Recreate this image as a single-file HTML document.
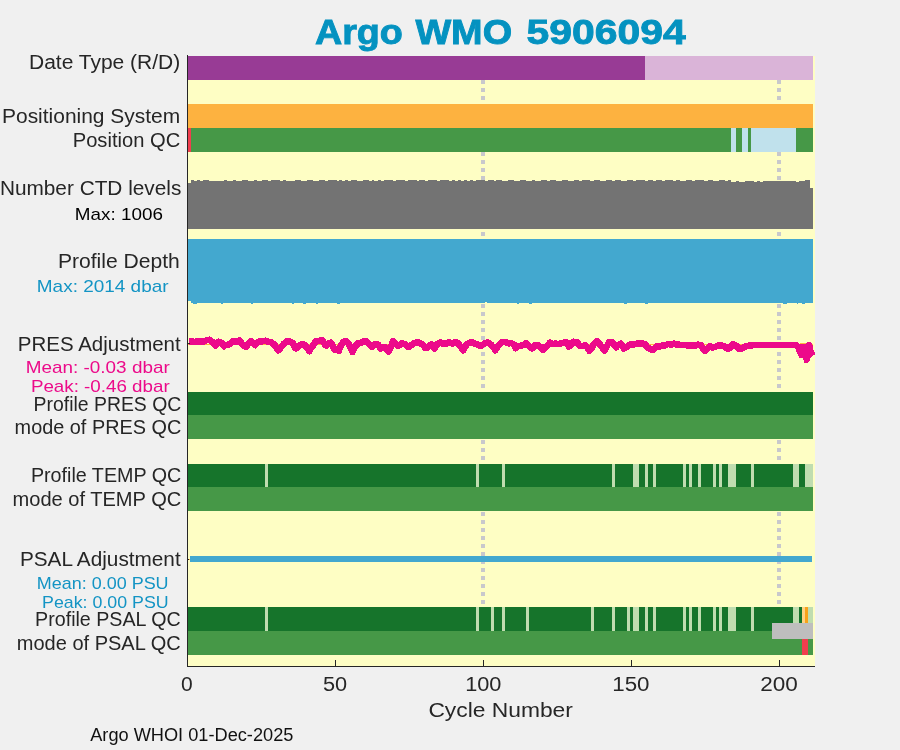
<!DOCTYPE html>
<html><head><meta charset="utf-8"><style>
html,body{margin:0;padding:0;background:#f0f0f0;width:900px;height:750px;overflow:hidden}
svg{display:block;will-change:transform}
text{font-family:"Liberation Sans",sans-serif}
</style></head><body>
<svg width="900" height="750" viewBox="0 0 900 750">
<rect x="0" y="0" width="900" height="750" fill="#f0f0f0"/>
<g shape-rendering="crispEdges">
<rect x="187.00" y="56.00" width="628.00" height="610.50" fill="#fefec4"/>
<rect x="481.00" y="56.00" width="4.00" height="4.00" fill="#c8c8cc"/>
<rect x="481.00" y="64.00" width="4.00" height="4.00" fill="#c8c8cc"/>
<rect x="481.00" y="72.00" width="4.00" height="4.00" fill="#c8c8cc"/>
<rect x="481.00" y="80.00" width="4.00" height="4.00" fill="#c8c8cc"/>
<rect x="481.00" y="88.00" width="4.00" height="4.00" fill="#c8c8cc"/>
<rect x="481.00" y="96.00" width="4.00" height="4.00" fill="#c8c8cc"/>
<rect x="481.00" y="104.00" width="4.00" height="4.00" fill="#c8c8cc"/>
<rect x="481.00" y="112.00" width="4.00" height="4.00" fill="#c8c8cc"/>
<rect x="481.00" y="120.00" width="4.00" height="4.00" fill="#c8c8cc"/>
<rect x="481.00" y="128.00" width="4.00" height="4.00" fill="#c8c8cc"/>
<rect x="481.00" y="136.00" width="4.00" height="4.00" fill="#c8c8cc"/>
<rect x="481.00" y="144.00" width="4.00" height="4.00" fill="#c8c8cc"/>
<rect x="481.00" y="152.00" width="4.00" height="4.00" fill="#c8c8cc"/>
<rect x="481.00" y="160.00" width="4.00" height="4.00" fill="#c8c8cc"/>
<rect x="481.00" y="168.00" width="4.00" height="4.00" fill="#c8c8cc"/>
<rect x="481.00" y="176.00" width="4.00" height="4.00" fill="#c8c8cc"/>
<rect x="481.00" y="184.00" width="4.00" height="4.00" fill="#c8c8cc"/>
<rect x="481.00" y="192.00" width="4.00" height="4.00" fill="#c8c8cc"/>
<rect x="481.00" y="200.00" width="4.00" height="4.00" fill="#c8c8cc"/>
<rect x="481.00" y="208.00" width="4.00" height="4.00" fill="#c8c8cc"/>
<rect x="481.00" y="216.00" width="4.00" height="4.00" fill="#c8c8cc"/>
<rect x="481.00" y="224.00" width="4.00" height="4.00" fill="#c8c8cc"/>
<rect x="481.00" y="232.00" width="4.00" height="4.00" fill="#c8c8cc"/>
<rect x="481.00" y="240.00" width="4.00" height="4.00" fill="#c8c8cc"/>
<rect x="481.00" y="248.00" width="4.00" height="4.00" fill="#c8c8cc"/>
<rect x="481.00" y="256.00" width="4.00" height="4.00" fill="#c8c8cc"/>
<rect x="481.00" y="264.00" width="4.00" height="4.00" fill="#c8c8cc"/>
<rect x="481.00" y="272.00" width="4.00" height="4.00" fill="#c8c8cc"/>
<rect x="481.00" y="280.00" width="4.00" height="4.00" fill="#c8c8cc"/>
<rect x="481.00" y="288.00" width="4.00" height="4.00" fill="#c8c8cc"/>
<rect x="481.00" y="296.00" width="4.00" height="4.00" fill="#c8c8cc"/>
<rect x="481.00" y="304.00" width="4.00" height="4.00" fill="#c8c8cc"/>
<rect x="481.00" y="312.00" width="4.00" height="4.00" fill="#c8c8cc"/>
<rect x="481.00" y="320.00" width="4.00" height="4.00" fill="#c8c8cc"/>
<rect x="481.00" y="328.00" width="4.00" height="4.00" fill="#c8c8cc"/>
<rect x="481.00" y="336.00" width="4.00" height="4.00" fill="#c8c8cc"/>
<rect x="481.00" y="344.00" width="4.00" height="4.00" fill="#c8c8cc"/>
<rect x="481.00" y="352.00" width="4.00" height="4.00" fill="#c8c8cc"/>
<rect x="481.00" y="360.00" width="4.00" height="4.00" fill="#c8c8cc"/>
<rect x="481.00" y="368.00" width="4.00" height="4.00" fill="#c8c8cc"/>
<rect x="481.00" y="376.00" width="4.00" height="4.00" fill="#c8c8cc"/>
<rect x="481.00" y="384.00" width="4.00" height="4.00" fill="#c8c8cc"/>
<rect x="481.00" y="392.00" width="4.00" height="4.00" fill="#c8c8cc"/>
<rect x="481.00" y="400.00" width="4.00" height="4.00" fill="#c8c8cc"/>
<rect x="481.00" y="408.00" width="4.00" height="4.00" fill="#c8c8cc"/>
<rect x="481.00" y="416.00" width="4.00" height="4.00" fill="#c8c8cc"/>
<rect x="481.00" y="424.00" width="4.00" height="4.00" fill="#c8c8cc"/>
<rect x="481.00" y="432.00" width="4.00" height="4.00" fill="#c8c8cc"/>
<rect x="481.00" y="440.00" width="4.00" height="4.00" fill="#c8c8cc"/>
<rect x="481.00" y="448.00" width="4.00" height="4.00" fill="#c8c8cc"/>
<rect x="481.00" y="456.00" width="4.00" height="4.00" fill="#c8c8cc"/>
<rect x="481.00" y="464.00" width="4.00" height="4.00" fill="#c8c8cc"/>
<rect x="481.00" y="472.00" width="4.00" height="4.00" fill="#c8c8cc"/>
<rect x="481.00" y="480.00" width="4.00" height="4.00" fill="#c8c8cc"/>
<rect x="481.00" y="488.00" width="4.00" height="4.00" fill="#c8c8cc"/>
<rect x="481.00" y="496.00" width="4.00" height="4.00" fill="#c8c8cc"/>
<rect x="481.00" y="504.00" width="4.00" height="4.00" fill="#c8c8cc"/>
<rect x="481.00" y="512.00" width="4.00" height="4.00" fill="#c8c8cc"/>
<rect x="481.00" y="520.00" width="4.00" height="4.00" fill="#c8c8cc"/>
<rect x="481.00" y="528.00" width="4.00" height="4.00" fill="#c8c8cc"/>
<rect x="481.00" y="536.00" width="4.00" height="4.00" fill="#c8c8cc"/>
<rect x="481.00" y="544.00" width="4.00" height="4.00" fill="#c8c8cc"/>
<rect x="481.00" y="552.00" width="4.00" height="4.00" fill="#c8c8cc"/>
<rect x="481.00" y="560.00" width="4.00" height="4.00" fill="#c8c8cc"/>
<rect x="481.00" y="568.00" width="4.00" height="4.00" fill="#c8c8cc"/>
<rect x="481.00" y="576.00" width="4.00" height="4.00" fill="#c8c8cc"/>
<rect x="481.00" y="584.00" width="4.00" height="4.00" fill="#c8c8cc"/>
<rect x="481.00" y="592.00" width="4.00" height="4.00" fill="#c8c8cc"/>
<rect x="481.00" y="600.00" width="4.00" height="4.00" fill="#c8c8cc"/>
<rect x="481.00" y="608.00" width="4.00" height="4.00" fill="#c8c8cc"/>
<rect x="481.00" y="616.00" width="4.00" height="4.00" fill="#c8c8cc"/>
<rect x="481.00" y="624.00" width="4.00" height="4.00" fill="#c8c8cc"/>
<rect x="481.00" y="632.00" width="4.00" height="4.00" fill="#c8c8cc"/>
<rect x="481.00" y="640.00" width="4.00" height="4.00" fill="#c8c8cc"/>
<rect x="481.00" y="648.00" width="4.00" height="4.00" fill="#c8c8cc"/>
<rect x="777.00" y="56.00" width="4.00" height="4.00" fill="#c8c8cc"/>
<rect x="777.00" y="64.00" width="4.00" height="4.00" fill="#c8c8cc"/>
<rect x="777.00" y="72.00" width="4.00" height="4.00" fill="#c8c8cc"/>
<rect x="777.00" y="80.00" width="4.00" height="4.00" fill="#c8c8cc"/>
<rect x="777.00" y="88.00" width="4.00" height="4.00" fill="#c8c8cc"/>
<rect x="777.00" y="96.00" width="4.00" height="4.00" fill="#c8c8cc"/>
<rect x="777.00" y="104.00" width="4.00" height="4.00" fill="#c8c8cc"/>
<rect x="777.00" y="112.00" width="4.00" height="4.00" fill="#c8c8cc"/>
<rect x="777.00" y="120.00" width="4.00" height="4.00" fill="#c8c8cc"/>
<rect x="777.00" y="128.00" width="4.00" height="4.00" fill="#c8c8cc"/>
<rect x="777.00" y="136.00" width="4.00" height="4.00" fill="#c8c8cc"/>
<rect x="777.00" y="144.00" width="4.00" height="4.00" fill="#c8c8cc"/>
<rect x="777.00" y="152.00" width="4.00" height="4.00" fill="#c8c8cc"/>
<rect x="777.00" y="160.00" width="4.00" height="4.00" fill="#c8c8cc"/>
<rect x="777.00" y="168.00" width="4.00" height="4.00" fill="#c8c8cc"/>
<rect x="777.00" y="176.00" width="4.00" height="4.00" fill="#c8c8cc"/>
<rect x="777.00" y="184.00" width="4.00" height="4.00" fill="#c8c8cc"/>
<rect x="777.00" y="192.00" width="4.00" height="4.00" fill="#c8c8cc"/>
<rect x="777.00" y="200.00" width="4.00" height="4.00" fill="#c8c8cc"/>
<rect x="777.00" y="208.00" width="4.00" height="4.00" fill="#c8c8cc"/>
<rect x="777.00" y="216.00" width="4.00" height="4.00" fill="#c8c8cc"/>
<rect x="777.00" y="224.00" width="4.00" height="4.00" fill="#c8c8cc"/>
<rect x="777.00" y="232.00" width="4.00" height="4.00" fill="#c8c8cc"/>
<rect x="777.00" y="240.00" width="4.00" height="4.00" fill="#c8c8cc"/>
<rect x="777.00" y="248.00" width="4.00" height="4.00" fill="#c8c8cc"/>
<rect x="777.00" y="256.00" width="4.00" height="4.00" fill="#c8c8cc"/>
<rect x="777.00" y="264.00" width="4.00" height="4.00" fill="#c8c8cc"/>
<rect x="777.00" y="272.00" width="4.00" height="4.00" fill="#c8c8cc"/>
<rect x="777.00" y="280.00" width="4.00" height="4.00" fill="#c8c8cc"/>
<rect x="777.00" y="288.00" width="4.00" height="4.00" fill="#c8c8cc"/>
<rect x="777.00" y="296.00" width="4.00" height="4.00" fill="#c8c8cc"/>
<rect x="777.00" y="304.00" width="4.00" height="4.00" fill="#c8c8cc"/>
<rect x="777.00" y="312.00" width="4.00" height="4.00" fill="#c8c8cc"/>
<rect x="777.00" y="320.00" width="4.00" height="4.00" fill="#c8c8cc"/>
<rect x="777.00" y="328.00" width="4.00" height="4.00" fill="#c8c8cc"/>
<rect x="777.00" y="336.00" width="4.00" height="4.00" fill="#c8c8cc"/>
<rect x="777.00" y="344.00" width="4.00" height="4.00" fill="#c8c8cc"/>
<rect x="777.00" y="352.00" width="4.00" height="4.00" fill="#c8c8cc"/>
<rect x="777.00" y="360.00" width="4.00" height="4.00" fill="#c8c8cc"/>
<rect x="777.00" y="368.00" width="4.00" height="4.00" fill="#c8c8cc"/>
<rect x="777.00" y="376.00" width="4.00" height="4.00" fill="#c8c8cc"/>
<rect x="777.00" y="384.00" width="4.00" height="4.00" fill="#c8c8cc"/>
<rect x="777.00" y="392.00" width="4.00" height="4.00" fill="#c8c8cc"/>
<rect x="777.00" y="400.00" width="4.00" height="4.00" fill="#c8c8cc"/>
<rect x="777.00" y="408.00" width="4.00" height="4.00" fill="#c8c8cc"/>
<rect x="777.00" y="416.00" width="4.00" height="4.00" fill="#c8c8cc"/>
<rect x="777.00" y="424.00" width="4.00" height="4.00" fill="#c8c8cc"/>
<rect x="777.00" y="432.00" width="4.00" height="4.00" fill="#c8c8cc"/>
<rect x="777.00" y="440.00" width="4.00" height="4.00" fill="#c8c8cc"/>
<rect x="777.00" y="448.00" width="4.00" height="4.00" fill="#c8c8cc"/>
<rect x="777.00" y="456.00" width="4.00" height="4.00" fill="#c8c8cc"/>
<rect x="777.00" y="464.00" width="4.00" height="4.00" fill="#c8c8cc"/>
<rect x="777.00" y="472.00" width="4.00" height="4.00" fill="#c8c8cc"/>
<rect x="777.00" y="480.00" width="4.00" height="4.00" fill="#c8c8cc"/>
<rect x="777.00" y="488.00" width="4.00" height="4.00" fill="#c8c8cc"/>
<rect x="777.00" y="496.00" width="4.00" height="4.00" fill="#c8c8cc"/>
<rect x="777.00" y="504.00" width="4.00" height="4.00" fill="#c8c8cc"/>
<rect x="777.00" y="512.00" width="4.00" height="4.00" fill="#c8c8cc"/>
<rect x="777.00" y="520.00" width="4.00" height="4.00" fill="#c8c8cc"/>
<rect x="777.00" y="528.00" width="4.00" height="4.00" fill="#c8c8cc"/>
<rect x="777.00" y="536.00" width="4.00" height="4.00" fill="#c8c8cc"/>
<rect x="777.00" y="544.00" width="4.00" height="4.00" fill="#c8c8cc"/>
<rect x="777.00" y="552.00" width="4.00" height="4.00" fill="#c8c8cc"/>
<rect x="777.00" y="560.00" width="4.00" height="4.00" fill="#c8c8cc"/>
<rect x="777.00" y="568.00" width="4.00" height="4.00" fill="#c8c8cc"/>
<rect x="777.00" y="576.00" width="4.00" height="4.00" fill="#c8c8cc"/>
<rect x="777.00" y="584.00" width="4.00" height="4.00" fill="#c8c8cc"/>
<rect x="777.00" y="592.00" width="4.00" height="4.00" fill="#c8c8cc"/>
<rect x="777.00" y="600.00" width="4.00" height="4.00" fill="#c8c8cc"/>
<rect x="777.00" y="608.00" width="4.00" height="4.00" fill="#c8c8cc"/>
<rect x="777.00" y="616.00" width="4.00" height="4.00" fill="#c8c8cc"/>
<rect x="777.00" y="624.00" width="4.00" height="4.00" fill="#c8c8cc"/>
<rect x="777.00" y="632.00" width="4.00" height="4.00" fill="#c8c8cc"/>
<rect x="777.00" y="640.00" width="4.00" height="4.00" fill="#c8c8cc"/>
<rect x="777.00" y="648.00" width="4.00" height="4.00" fill="#c8c8cc"/>
<rect x="187.00" y="56.00" width="458.00" height="24.00" fill="#983b95"/>
<rect x="645.00" y="56.00" width="168.00" height="24.00" fill="#dab4d8"/>
<rect x="187.00" y="104.00" width="626.00" height="24.00" fill="#fdb240"/>
<rect x="187.00" y="128.00" width="626.00" height="24.00" fill="#469847"/>
<rect x="188.00" y="128.00" width="3.00" height="24.00" fill="#f03e4e"/>
<rect x="731.00" y="128.00" width="5.00" height="24.00" fill="#c0e1ec"/>
<rect x="742.00" y="128.00" width="6.00" height="24.00" fill="#c0e1ec"/>
<rect x="751.00" y="128.00" width="45.00" height="24.00" fill="#c0e1ec"/>
<path d="M187.0,229.0 L187.0,183.0 L191.0,183.0 L191.0,181.0 L191.0,180.0 L194.0,180.0 L194.0,181.0 L197.0,181.0 L197.0,180.0 L200.0,180.0 L200.0,181.0 L203.0,181.0 L203.0,180.0 L209.0,180.0 L209.0,181.0 L224.0,181.0 L224.0,180.0 L227.0,180.0 L227.0,181.0 L233.0,181.0 L233.0,180.0 L236.0,180.0 L236.0,181.0 L242.0,181.0 L242.0,180.0 L248.0,180.0 L248.0,181.0 L254.0,181.0 L254.0,180.0 L257.0,180.0 L257.0,181.0 L262.0,181.0 L262.0,180.0 L268.0,180.0 L268.0,181.0 L271.0,181.0 L271.0,180.0 L280.0,180.0 L280.0,181.0 L283.0,181.0 L283.0,180.0 L286.0,180.0 L286.0,181.0 L295.0,181.0 L295.0,180.0 L301.0,180.0 L301.0,181.0 L307.0,181.0 L307.0,180.0 L313.0,180.0 L313.0,181.0 L319.0,181.0 L319.0,180.0 L325.0,180.0 L325.0,181.0 L328.0,181.0 L328.0,180.0 L337.0,180.0 L337.0,181.0 L339.0,181.0 L339.0,180.0 L342.0,180.0 L342.0,181.0 L345.0,181.0 L345.0,180.0 L348.0,180.0 L348.0,181.0 L351.0,181.0 L351.0,180.0 L357.0,180.0 L357.0,181.0 L363.0,181.0 L363.0,180.0 L369.0,180.0 L369.0,181.0 L372.0,181.0 L372.0,180.0 L374.0,180.0 L374.0,181.0 L378.0,181.0 L378.0,180.0 L381.0,180.0 L381.0,181.0 L384.0,181.0 L384.0,180.0 L393.0,180.0 L393.0,181.0 L396.0,181.0 L396.0,180.0 L405.0,180.0 L405.0,181.0 L408.0,181.0 L408.0,180.0 L417.0,180.0 L417.0,181.0 L419.0,181.0 L419.0,180.0 L425.0,180.0 L425.0,181.0 L428.0,181.0 L428.0,180.0 L437.0,180.0 L437.0,181.0 L440.0,181.0 L440.0,180.0 L449.0,180.0 L449.0,181.0 L452.0,181.0 L452.0,180.0 L455.0,180.0 L455.0,181.0 L458.0,181.0 L458.0,180.0 L461.0,180.0 L461.0,181.0 L464.0,181.0 L464.0,180.0 L467.0,180.0 L467.0,181.0 L470.0,181.0 L470.0,180.0 L473.0,180.0 L473.0,181.0 L476.0,181.0 L476.0,180.0 L485.0,180.0 L485.0,181.0 L488.0,181.0 L488.0,180.0 L494.0,180.0 L494.0,181.0 L496.0,181.0 L496.0,180.0 L502.0,180.0 L502.0,181.0 L508.0,181.0 L508.0,180.0 L514.0,180.0 L514.0,181.0 L520.0,181.0 L520.0,180.0 L526.0,180.0 L526.0,181.0 L532.0,181.0 L532.0,180.0 L535.0,180.0 L535.0,181.0 L541.0,181.0 L541.0,180.0 L547.0,180.0 L547.0,181.0 L550.0,181.0 L550.0,180.0 L556.0,180.0 L556.0,181.0 L562.0,181.0 L562.0,180.0 L568.0,180.0 L568.0,181.0 L574.0,181.0 L574.0,180.0 L579.0,180.0 L579.0,181.0 L582.0,181.0 L582.0,180.0 L590.0,180.0 L590.0,181.0 L594.0,181.0 L594.0,180.0 L600.0,180.0 L600.0,181.0 L606.0,181.0 L606.0,180.0 L612.0,180.0 L612.0,181.0 L615.0,181.0 L615.0,180.0 L621.0,180.0 L621.0,181.0 L627.0,181.0 L627.0,180.0 L633.0,180.0 L633.0,181.0 L636.0,181.0 L636.0,180.0 L645.0,180.0 L645.0,181.0 L648.0,181.0 L648.0,180.0 L653.0,180.0 L653.0,181.0 L656.0,181.0 L656.0,180.0 L662.0,180.0 L662.0,181.0 L665.0,181.0 L665.0,180.0 L673.0,180.0 L673.0,181.0 L676.0,181.0 L676.0,180.0 L680.0,180.0 L680.0,181.0 L686.0,181.0 L686.0,180.0 L692.0,180.0 L692.0,181.0 L695.0,181.0 L695.0,180.0 L704.0,180.0 L704.0,181.0 L708.0,181.0 L708.0,180.0 L713.0,180.0 L713.0,181.0 L719.0,181.0 L719.0,180.0 L725.0,180.0 L725.0,181.0 L728.0,181.0 L728.0,180.0 L731.0,180.0 L731.0,181.0 L731.0,181.0 L731.0,182.0 L736.0,182.0 L736.0,181.0 L739.0,181.0 L739.0,182.0 L745.0,182.0 L745.0,181.0 L754.0,181.0 L754.0,182.0 L757.0,182.0 L757.0,181.0 L760.0,181.0 L760.0,182.0 L763.0,182.0 L763.0,181.0 L796.0,181.0 L796.0,182.0 L799.0,182.0 L799.0,181.0 L805.0,181.0 L805.0,182.0 L805.0,182.0 L805.0,180.0 L810.0,180.0 L810.0,188.0 L813.0,188.0 L813.0,229.0 Z" fill="#737373"/>
<rect x="187.00" y="239.00" width="626.00" height="64.30" fill="#43a8cf"/>
<rect x="187.00" y="301.00" width="4.00" height="2.30" fill="#fefec4"/>
<rect x="193.00" y="303.00" width="3.60" height="1.30" fill="#43a8cf"/>
<rect x="220.50" y="303.00" width="2.50" height="1.30" fill="#43a8cf"/>
<rect x="250.80" y="303.00" width="2.60" height="1.30" fill="#43a8cf"/>
<rect x="291.70" y="303.00" width="2.60" height="1.30" fill="#43a8cf"/>
<rect x="303.00" y="303.00" width="3.00" height="1.30" fill="#43a8cf"/>
<rect x="315.70" y="303.00" width="2.60" height="1.30" fill="#43a8cf"/>
<rect x="337.00" y="303.00" width="2.70" height="1.30" fill="#43a8cf"/>
<rect x="516.60" y="303.00" width="2.60" height="1.30" fill="#43a8cf"/>
<rect x="529.00" y="303.00" width="2.70" height="1.30" fill="#43a8cf"/>
<rect x="624.00" y="303.00" width="2.80" height="1.30" fill="#43a8cf"/>
<rect x="645.40" y="303.00" width="2.60" height="1.30" fill="#43a8cf"/>
<rect x="783.00" y="303.00" width="3.80" height="1.30" fill="#43a8cf"/>
<rect x="796.60" y="303.00" width="1.70" height="1.30" fill="#43a8cf"/>
<rect x="801.90" y="303.00" width="2.70" height="1.30" fill="#43a8cf"/>
<rect x="484.60" y="302.30" width="2.60" height="1.00" fill="#fefec4"/>
<rect x="188" y="343.5" width="625" height="1" fill="#fdb240"/>
<polyline points="188.9,341.4 191.8,341.5 194.8,342.1 197.8,341.2 200.7,341.6 203.7,341.7 206.6,340.2 209.6,339.8 212.6,341.9 215.2,345.1 215.5,345.4 218.5,341.7 221.4,342.9 224.1,346.2 224.4,345.3 227.3,345.0 230.3,343.5 233.3,341.1 236.2,341.6 239.2,340.4 242.1,343.8 243.7,345.6 245.1,346.3 246.3,346.5 248.1,344.0 251.0,341.1 254.0,344.2 255.2,345.1 256.9,342.7 259.9,341.2 262.9,341.2 265.8,340.8 268.8,341.8 271.7,342.7 274.7,345.0 277.6,349.3 278.3,350.4 280.6,347.7 283.6,344.0 286.5,341.6 289.5,341.3 292.4,342.7 295.4,348.2 296.1,348.3 298.4,346.1 301.3,344.3 304.3,344.7 307.2,347.6 309.4,351.2 310.2,349.5 313.2,345.1 316.1,341.2 319.1,340.9 322.0,340.2 325.0,344.6 326.3,345.6 328.0,343.9 330.9,342.6 333.9,348.2 335.2,350.1 336.8,349.6 338.8,351.0 339.8,347.9 342.7,342.6 345.7,341.0 348.7,344.0 351.6,349.4 352.6,352.0 354.6,347.1 357.5,343.6 360.5,343.0 363.5,341.6 366.4,341.0 369.4,344.3 371.7,346.9 372.3,347.1 375.3,343.9 378.3,344.7 380.6,348.4 381.2,347.8 384.2,346.8 387.1,349.5 388.6,351.6 390.1,348.8 393.1,341.3 396.0,344.3 398.3,346.0 399.0,345.5 401.9,343.2 404.9,344.3 407.8,346.2 408.1,347.1 410.8,345.6 413.8,343.1 416.7,342.6 419.7,342.8 422.6,344.6 425.6,348.1 426.8,348.2 428.6,346.3 431.5,344.3 434.5,348.4 434.8,348.0 437.4,344.1 440.4,342.4 443.4,343.9 446.3,343.6 449.3,342.3 452.2,343.6 455.2,341.9 458.1,343.4 461.1,347.0 463.2,350.2 464.1,348.6 467.0,344.1 470.0,342.5 472.9,342.4 475.9,344.2 478.9,345.0 480.1,346.0 481.8,345.3 484.8,343.3 487.7,342.4 490.7,344.3 493.7,347.5 495.2,350.4 496.6,348.3 499.6,344.1 502.5,342.1 505.5,341.9 508.5,343.3 511.4,343.1 514.4,344.9 515.7,348.2 517.3,346.6 520.3,345.8 523.2,345.2 526.2,343.3 529.2,346.1 532.1,348.5 532.6,348.2 535.1,345.0 538.0,345.1 541.0,347.3 543.2,350.1 544.0,348.3 546.9,346.0 549.9,342.7 552.8,344.2 555.8,343.6 558.8,344.1 561.7,343.2 564.7,342.3 567.6,342.7 569.0,346.5 570.6,345.5 573.5,341.8 576.5,341.9 579.5,345.3 580.6,346.2 582.4,346.0 585.4,345.1 588.3,348.8 589.4,350.8 591.3,348.5 594.3,343.3 597.2,341.2 600.2,344.7 603.1,348.8 604.6,350.8 606.1,347.3 609.1,342.3 612.0,342.2 615.0,345.9 616.1,347.4 617.9,345.2 620.9,343.7 623.9,348.6 624.1,348.2 626.8,346.8 629.8,344.6 632.7,344.4 635.7,344.1 638.6,343.2 641.6,343.3 644.6,344.0 647.5,347.4 650.5,349.2 651.7,349.7 653.4,349.6 656.4,346.3 659.4,346.5 662.3,345.4 665.3,345.3 668.2,343.9 671.2,344.8 674.2,343.6 677.1,344.7 680.1,344.8 683.0,345.0 686.0,345.2 689.0,345.5 691.9,345.6 694.9,345.8 697.8,344.6 700.8,345.3 703.7,350.0 705.0,351.1 706.7,349.5 709.7,346.3 712.6,347.6 715.6,346.7 718.5,345.4 721.5,345.5 724.5,346.2 727.4,348.6 728.1,348.9 730.4,347.3 733.3,344.1 736.3,345.9 739.3,348.9 740.6,349.1 742.2,348.4 745.2,346.5 748.1,345.8 751.1,345.5 754.0,345.0 757.0,345.0 760.0,345.0 762.9,345.0 765.9,345.0 768.8,345.0 771.8,345.0 774.8,344.9 777.7,344.9 780.7,344.9 783.6,344.9 786.6,344.9 789.6,344.9 792.5,344.9 795.5,344.9 796.0,344.9" fill="none" stroke="#ec0a8a" stroke-width="6.6" stroke-linejoin="round" stroke-linecap="butt"/>
<polygon points="794.8,342.0 798.0,342.0 800.0,344.2 806.0,344.2 807.0,342.0 811.0,342.0 812.0,343.5 813.0,346.0 813.6,351.0 815.0,353.0 815.0,355.0 812.0,355.8 810.5,358.0 809.5,361.3 807.5,363.0 804.5,363.0 803.0,358.4 800.0,358.4 797.5,354.0 795.5,349.0 794.8,347.8" fill="#ec0a8a"/>
<rect x="800" y="343.0" width="6" height="1.3" fill="#fdb240"/>
<rect x="187.00" y="392.00" width="626.00" height="23.00" fill="#16742b"/>
<rect x="187.00" y="415.00" width="626.00" height="24.00" fill="#469847"/>
<rect x="187.00" y="464.00" width="626.00" height="23.00" fill="#16742b"/>
<rect x="187.00" y="487.00" width="626.00" height="24.00" fill="#469847"/>
<rect x="265.00" y="464.00" width="3.00" height="23.00" fill="#c0ddb0"/>
<rect x="476.00" y="464.00" width="3.00" height="23.00" fill="#c0ddb0"/>
<rect x="502.00" y="464.00" width="3.00" height="23.00" fill="#c0ddb0"/>
<rect x="612.00" y="464.00" width="3.00" height="23.00" fill="#c0ddb0"/>
<rect x="633.00" y="464.00" width="6.00" height="23.00" fill="#c0ddb0"/>
<rect x="645.00" y="464.00" width="3.00" height="23.00" fill="#c0ddb0"/>
<rect x="653.00" y="464.00" width="3.00" height="23.00" fill="#c0ddb0"/>
<rect x="683.00" y="464.00" width="3.00" height="23.00" fill="#c0ddb0"/>
<rect x="689.00" y="464.00" width="3.00" height="23.00" fill="#c0ddb0"/>
<rect x="698.00" y="464.00" width="3.00" height="23.00" fill="#c0ddb0"/>
<rect x="713.00" y="464.00" width="3.00" height="23.00" fill="#c0ddb0"/>
<rect x="719.00" y="464.00" width="3.00" height="23.00" fill="#c0ddb0"/>
<rect x="728.00" y="464.00" width="8.00" height="23.00" fill="#c0ddb0"/>
<rect x="751.00" y="464.00" width="3.00" height="23.00" fill="#c0ddb0"/>
<rect x="793.00" y="464.00" width="6.00" height="23.00" fill="#c0ddb0"/>
<rect x="805.00" y="464.00" width="8.00" height="23.00" fill="#c0ddb0"/>
<rect x="190.00" y="556.00" width="622.00" height="6.00" fill="#43a8cf"/>
<rect x="188.00" y="558.50" width="2.00" height="1.50" fill="#fdb240"/>
<rect x="187.00" y="607.00" width="626.00" height="24.00" fill="#16742b"/>
<rect x="187.00" y="631.00" width="626.00" height="24.00" fill="#469847"/>
<rect x="265.00" y="607.00" width="3.00" height="24.00" fill="#c0ddb0"/>
<rect x="476.00" y="607.00" width="3.00" height="24.00" fill="#c0ddb0"/>
<rect x="491.00" y="607.00" width="3.00" height="24.00" fill="#c0ddb0"/>
<rect x="502.00" y="607.00" width="3.00" height="24.00" fill="#c0ddb0"/>
<rect x="526.00" y="607.00" width="3.00" height="24.00" fill="#c0ddb0"/>
<rect x="591.00" y="607.00" width="3.00" height="24.00" fill="#c0ddb0"/>
<rect x="612.00" y="607.00" width="3.00" height="24.00" fill="#c0ddb0"/>
<rect x="627.00" y="607.00" width="3.00" height="24.00" fill="#c0ddb0"/>
<rect x="633.00" y="607.00" width="6.00" height="24.00" fill="#c0ddb0"/>
<rect x="645.00" y="607.00" width="3.00" height="24.00" fill="#c0ddb0"/>
<rect x="653.00" y="607.00" width="3.00" height="24.00" fill="#c0ddb0"/>
<rect x="683.00" y="607.00" width="3.00" height="24.00" fill="#c0ddb0"/>
<rect x="689.00" y="607.00" width="3.00" height="24.00" fill="#c0ddb0"/>
<rect x="698.00" y="607.00" width="3.00" height="24.00" fill="#c0ddb0"/>
<rect x="713.00" y="607.00" width="3.00" height="24.00" fill="#c0ddb0"/>
<rect x="719.00" y="607.00" width="3.00" height="24.00" fill="#c0ddb0"/>
<rect x="728.00" y="607.00" width="8.00" height="24.00" fill="#c0ddb0"/>
<rect x="751.00" y="607.00" width="3.00" height="24.00" fill="#c0ddb0"/>
<rect x="793.00" y="607.00" width="6.00" height="24.00" fill="#c0ddb0"/>
<rect x="808.00" y="607.00" width="5.00" height="24.00" fill="#c0ddb0"/>
<rect x="802.00" y="607.00" width="3.00" height="16.00" fill="#fed184"/>
<rect x="805.00" y="607.00" width="3.00" height="16.00" fill="#f7a21b"/>
<rect x="772.00" y="623.00" width="41.00" height="16.00" fill="#bebebe"/>
<rect x="802.00" y="639.00" width="6.00" height="16.00" fill="#f03e4e"/>
<rect x="186.6" y="55" width="1.2" height="612" fill="#262626"/>
<rect x="186.6" y="665.9" width="628.4" height="1.2" fill="#262626"/>
<rect x="334.80" y="660" width="1.2" height="6" fill="#262626"/>
<rect x="482.90" y="660" width="1.2" height="6" fill="#262626"/>
<rect x="630.90" y="660" width="1.2" height="6" fill="#262626"/>
<rect x="778.60" y="660" width="1.2" height="6" fill="#262626"/>
<rect x="187" y="342.5" width="3" height="1" fill="#262626"/>
<rect x="187" y="558.5" width="2" height="1" fill="#262626"/>
</g>
<text x="29.0" y="68.9" font-size="19.50" fill="#262626" text-anchor="start" font-weight="normal" textLength="151.2" lengthAdjust="spacingAndGlyphs">Date Type (R/D)</text>
<text x="2.0" y="123.1" font-size="19.50" fill="#262626" text-anchor="start" font-weight="normal" textLength="178.2" lengthAdjust="spacingAndGlyphs">Positioning System</text>
<text x="72.7" y="147.0" font-size="19.50" fill="#262626" text-anchor="start" font-weight="normal" textLength="107.5" lengthAdjust="spacingAndGlyphs">Position QC</text>
<text x="-0.1" y="195.3" font-size="19.50" fill="#262626" text-anchor="start" font-weight="normal" textLength="181.4" lengthAdjust="spacingAndGlyphs">Number CTD levels</text>
<text x="74.8" y="220.0" font-size="17.00" fill="#000000" text-anchor="start" font-weight="normal" textLength="88.1" lengthAdjust="spacingAndGlyphs">Max: 1006</text>
<text x="57.9" y="267.5" font-size="19.50" fill="#262626" text-anchor="start" font-weight="normal" textLength="121.9" lengthAdjust="spacingAndGlyphs">Profile Depth</text>
<text x="36.8" y="292.0" font-size="17.00" fill="#1394c4" text-anchor="start" font-weight="normal" textLength="131.8" lengthAdjust="spacingAndGlyphs">Max: 2014 dbar</text>
<text x="17.8" y="351.0" font-size="19.50" fill="#262626" text-anchor="start" font-weight="normal" textLength="162.9" lengthAdjust="spacingAndGlyphs">PRES Adjustment</text>
<text x="25.8" y="372.5" font-size="17.00" fill="#ec0a8a" text-anchor="start" font-weight="normal" textLength="143.9" lengthAdjust="spacingAndGlyphs">Mean: -0.03 dbar</text>
<text x="30.9" y="391.5" font-size="17.00" fill="#ec0a8a" text-anchor="start" font-weight="normal" textLength="138.8" lengthAdjust="spacingAndGlyphs">Peak: -0.46 dbar</text>
<text x="33.6" y="411.1" font-size="19.50" fill="#262626" text-anchor="start" font-weight="normal" textLength="147.7" lengthAdjust="spacingAndGlyphs">Profile PRES QC</text>
<text x="14.6" y="433.7" font-size="19.50" fill="#262626" text-anchor="start" font-weight="normal" textLength="166.7" lengthAdjust="spacingAndGlyphs">mode of PRES QC</text>
<text x="30.9" y="481.8" font-size="19.50" fill="#262626" text-anchor="start" font-weight="normal" textLength="150.4" lengthAdjust="spacingAndGlyphs">Profile TEMP QC</text>
<text x="12.5" y="505.7" font-size="19.50" fill="#262626" text-anchor="start" font-weight="normal" textLength="168.8" lengthAdjust="spacingAndGlyphs">mode of TEMP QC</text>
<text x="19.9" y="566.0" font-size="19.50" fill="#262626" text-anchor="start" font-weight="normal" textLength="160.8" lengthAdjust="spacingAndGlyphs">PSAL Adjustment</text>
<text x="36.8" y="588.6" font-size="17.00" fill="#1394c4" text-anchor="start" font-weight="normal" textLength="131.8" lengthAdjust="spacingAndGlyphs">Mean: 0.00 PSU</text>
<text x="42.1" y="607.6" font-size="17.00" fill="#1394c4" text-anchor="start" font-weight="normal" textLength="126.5" lengthAdjust="spacingAndGlyphs">Peak: 0.00 PSU</text>
<text x="35.1" y="626.1" font-size="19.50" fill="#262626" text-anchor="start" font-weight="normal" textLength="145.6" lengthAdjust="spacingAndGlyphs">Profile PSAL QC</text>
<text x="16.8" y="649.8" font-size="19.50" fill="#262626" text-anchor="start" font-weight="normal" textLength="163.9" lengthAdjust="spacingAndGlyphs">mode of PSAL QC</text>
<text x="314.9" y="44.1" font-size="35.60" fill="#0492c0" text-anchor="start" font-weight="bold" textLength="88.0" lengthAdjust="spacingAndGlyphs" stroke="#0492c0" stroke-width="0.9">Argo</text>
<text x="415.4" y="44.1" font-size="35.60" fill="#0492c0" text-anchor="start" font-weight="bold" textLength="96.7" lengthAdjust="spacingAndGlyphs" stroke="#0492c0" stroke-width="0.9">WMO</text>
<text x="526.6" y="44.1" font-size="35.60" fill="#0492c0" text-anchor="start" font-weight="bold" textLength="159.1" lengthAdjust="spacingAndGlyphs" stroke="#0492c0" stroke-width="0.9">5906094</text>
<text x="186.9" y="691.0" font-size="19.50" fill="#262626" text-anchor="middle" font-weight="normal" textLength="11.7" lengthAdjust="spacingAndGlyphs">0</text>
<text x="335.0" y="691.0" font-size="19.50" fill="#262626" text-anchor="middle" font-weight="normal" textLength="24.2" lengthAdjust="spacingAndGlyphs">50</text>
<text x="483.3" y="691.0" font-size="19.50" fill="#262626" text-anchor="middle" font-weight="normal" textLength="36.3" lengthAdjust="spacingAndGlyphs">100</text>
<text x="630.9" y="691.0" font-size="19.50" fill="#262626" text-anchor="middle" font-weight="normal" textLength="37.3" lengthAdjust="spacingAndGlyphs">150</text>
<text x="779.0" y="691.0" font-size="19.50" fill="#262626" text-anchor="middle" font-weight="normal" textLength="37.6" lengthAdjust="spacingAndGlyphs">200</text>
<text x="428.4" y="716.6" font-size="21.00" fill="#262626" text-anchor="start" font-weight="normal" textLength="144.5" lengthAdjust="spacingAndGlyphs">Cycle Number</text>
<text x="90.2" y="741.0" font-size="18.00" fill="#111111" text-anchor="start" font-weight="normal" textLength="203.2" lengthAdjust="spacingAndGlyphs">Argo WHOI 01-Dec-2025</text>
</svg>
</body></html>
